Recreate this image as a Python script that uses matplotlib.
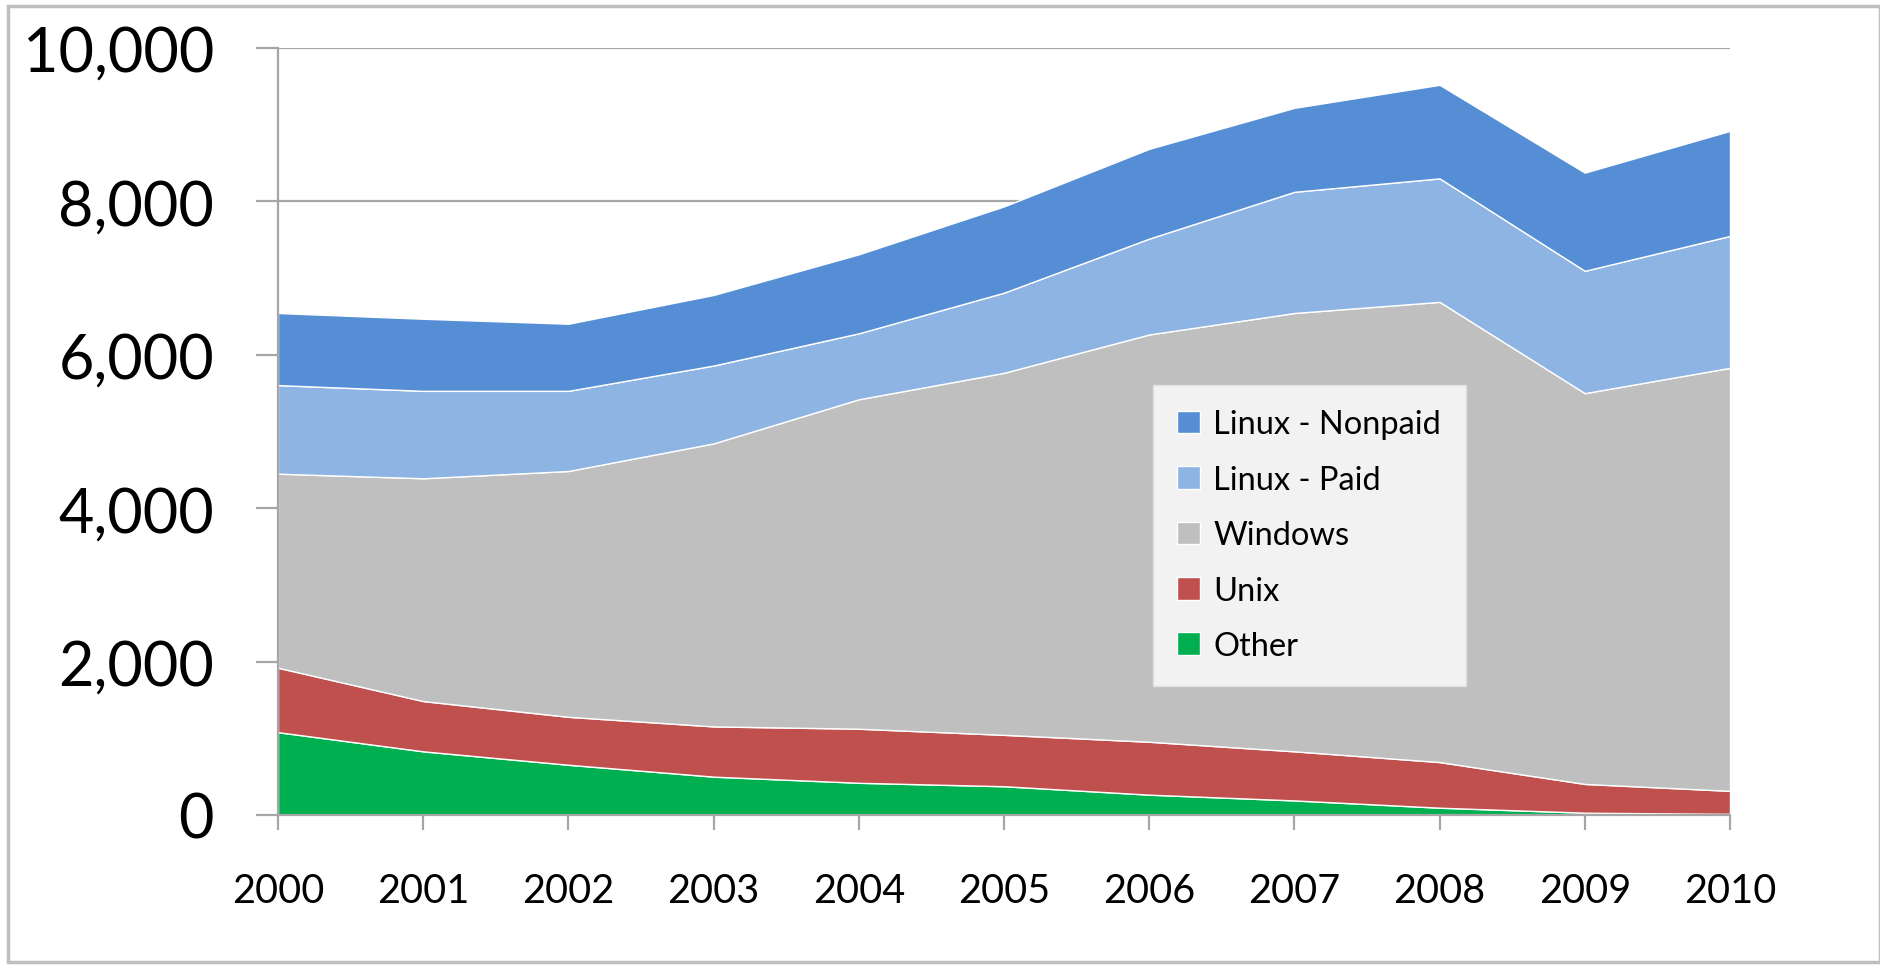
import matplotlib.pyplot as plt
import numpy as np
from matplotlib.patches import Rectangle
from matplotlib.ticker import FuncFormatter

years = [2000, 2001, 2002, 2003, 2004, 2005, 2006, 2007, 2008, 2009, 2010]
other = [1080, 830, 655, 500, 420, 375, 265, 190, 95, 30, 15]
unix = [840, 655, 625, 655, 705, 670, 690, 640, 595, 375, 300]
windows = [2530, 2905, 3205, 3690, 4295, 4720, 5310, 5715, 6000, 5095, 5515]
linux_paid = [1155, 1140, 1045, 1015, 860, 1045, 1250, 1580, 1610, 1595, 1720]
linux_nonpaid = [940, 940, 875, 920, 1030, 1125, 1170, 1095, 1220, 1280, 1370]

labels = ["Other", "Unix", "Windows", "Linux - Paid", "Linux - Nonpaid"]
colors = ["#00B050", "#C0504D", "#BFBFBF", "#8EB4E3", "#558ED5"]

plt.rcParams["font.family"] = ["Lato", "DejaVu Sans"]

fig = plt.figure(figsize=(18.81, 9.70), dpi=100)
# light grey frame round the whole chart
fig.patches.append(Rectangle((8 / 1881, 1 - 963 / 970), 1872 / 1881, 956 / 970,
                             transform=fig.transFigure, fill=False,
                             edgecolor="#bfbfbf", linewidth=2.5))
ax = fig.add_axes([278 / 1881, 1 - 816 / 970, 1452 / 1881, 767 / 970])

x = np.arange(len(years))
ax.stackplot(x, other, unix, windows, linux_paid, linux_nonpaid,
             colors=colors, labels=labels, edgecolor="white",
             linewidth=1.0, zorder=3)

ax.set_xlim(0, len(years) - 1)
ax.set_ylim(0, 10000)
ax.set_yticks(np.arange(0, 10001, 2000))
ax.yaxis.set_major_formatter(FuncFormatter(lambda v, p: f"{int(v):,}"))
ax.set_xticks(x)
ax.set_xticklabels([str(y) for y in years])

ax.grid(axis="y", color="#a6a6a6", linewidth=1.6, zorder=0)
ax.set_axisbelow(True)
for s in ["top", "right"]:
    ax.spines[s].set_visible(False)
for s in ["left", "bottom"]:
    ax.spines[s].set_color("#a6a6a6")
    ax.spines[s].set_linewidth(1.6)
    ax.spines[s].set_zorder(4)

ax.tick_params(axis="y", length=16, width=1.6, color="#a6a6a6", pad=30,
               labelsize=44, labelcolor="black")
ax.tick_params(axis="x", length=11, width=1.6, color="#a6a6a6", pad=30,
               labelsize=28.5, labelcolor="black")

handles, lbls = ax.get_legend_handles_labels()
leg = ax.legend(handles[::-1], lbls[::-1], loc="upper left",
                bbox_to_anchor=((1153 - 278) / 1452, (816 - 386) / 767),
                borderaxespad=0, fontsize=23.5, frameon=True, fancybox=False,
                handlelength=0.7, handleheight=0.7, handletextpad=0.4,
                labelspacing=0.78, borderpad=0.75)
leg.get_frame().set_facecolor("#f2f2f2")
leg.get_frame().set_edgecolor("#e0e0e0")
leg.get_frame().set_alpha(1.0)

fig.savefig("out.png", dpi=100)
